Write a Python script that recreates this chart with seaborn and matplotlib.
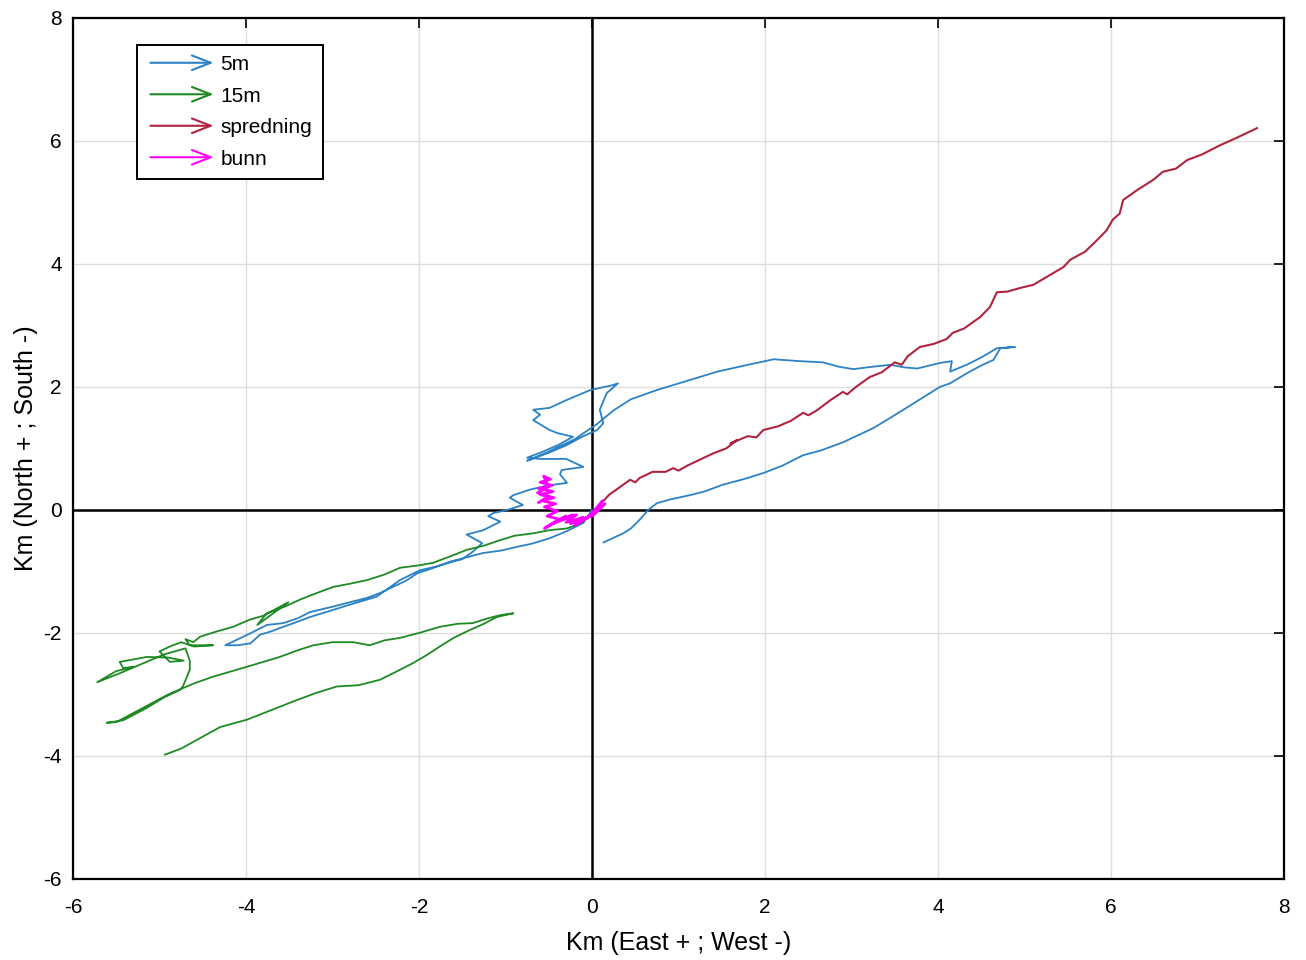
# progressive vector plot of current drift tracks
import pandas as pd
import seaborn as sns
import matplotlib.pyplot as plt
from matplotlib.patches import FancyArrowPatch
from matplotlib.legend_handler import HandlerPatch

# track points (km east, km north)
track_5m = [(0.0, 0.0), (-0.1, -0.21), (-0.3, -0.35), (-0.49, -0.46), (-0.7, -0.55), (-0.87, -0.6),
            (-1.05, -0.66), (-1.26, -0.7), (-1.45, -0.77), (-1.64, -0.84), (-1.85, -0.95), (-2.02, -1.03),
            (-2.15, -1.15), (-2.3, -1.25), (-2.45, -1.35), (-2.6, -1.43), (-2.8, -1.5), (-2.99, -1.57),
            (-3.26, -1.66), (-3.4, -1.76), (-3.57, -1.84), (-3.76, -1.87), (-3.9, -1.97), (-4.03, -2.06),
            (-4.24, -2.2), (-4.1, -2.2), (-3.95, -2.17), (-3.84, -2.03), (-3.7, -1.97), (-3.61, -1.92),
            (-3.45, -1.84), (-3.26, -1.74), (-3.05, -1.65), (-2.8, -1.54), (-2.49, -1.41), (-2.35, -1.27),
            (-2.22, -1.14), (-1.99, -0.98), (-1.8, -0.92), (-1.61, -0.84), (-1.5, -0.8), (-1.38, -0.68),
            (-1.27, -0.54), (-1.45, -0.4), (-1.26, -0.33), (-1.06, -0.19), (-1.2, -0.1), (-1.14, -0.05),
            (-0.98, 0.0), (-0.8, 0.08), (-0.95, 0.2), (-0.91, 0.24), (-0.72, 0.33), (-0.5, 0.4),
            (-0.29, 0.44), (-0.37, 0.58), (-0.35, 0.65), (-0.1, 0.7), (-0.3, 0.83), (-0.6, 0.83),
            (-0.75, 0.85), (-0.6, 0.93), (-0.4, 1.05), (-0.22, 1.19), (-0.4, 1.25), (-0.49, 1.3),
            (-0.68, 1.46), (-0.6, 1.55), (-0.68, 1.63), (-0.49, 1.66), (-0.29, 1.79), (-0.02, 1.95),
            (0.24, 2.03), (0.3, 2.06), (0.17, 1.9), (0.09, 1.63), (0.13, 1.41), (0.06, 1.3),
            (-0.1, 1.2), (-0.3, 1.05), (-0.5, 0.93), (-0.75, 0.8), (-0.5, 0.95), (-0.2, 1.15),
            (0.06, 1.4), (0.25, 1.62), (0.45, 1.8), (0.75, 1.95), (1.1, 2.1), (1.45, 2.25),
            (1.8, 2.36), (2.1, 2.45), (2.4, 2.42), (2.67, 2.4), (2.85, 2.33), (3.02, 2.29),
            (3.25, 2.33), (3.45, 2.36), (3.6, 2.32), (3.76, 2.3), (4.02, 2.39), (4.16, 2.42),
            (4.14, 2.25), (4.33, 2.36), (4.5, 2.48), (4.68, 2.63), (4.89, 2.65), (4.72, 2.63),
            (4.64, 2.44), (4.5, 2.35), (4.33, 2.22), (4.14, 2.06), (4.02, 2.0), (3.85, 1.85),
            (3.68, 1.7), (3.45, 1.5), (3.25, 1.33), (2.9, 1.1), (2.65, 0.97), (2.44, 0.89),
            (2.2, 0.72), (1.98, 0.6), (1.75, 0.5), (1.51, 0.41), (1.3, 0.3), (1.13, 0.24),
            (0.9, 0.17), (0.75, 0.11), (0.65, 0.0), (0.55, -0.16), (0.45, -0.3), (0.36, -0.38),
            (0.13, -0.53)]

track_15m = [(-0.1, -0.2), (-0.29, -0.3), (-0.5, -0.33), (-0.68, -0.38), (-0.9, -0.42), (-1.06, -0.49),
             (-1.25, -0.58), (-1.45, -0.65), (-1.65, -0.76), (-1.84, -0.86), (-2.0, -0.9), (-2.22, -0.94),
             (-2.4, -1.05), (-2.6, -1.14), (-2.8, -1.2), (-2.99, -1.25), (-3.2, -1.36), (-3.38, -1.46),
             (-3.55, -1.57), (-3.76, -1.68), (-3.87, -1.87), (-3.51, -1.5), (-3.8, -1.72), (-3.95, -1.78),
             (-4.15, -1.9), (-4.35, -1.98), (-4.53, -2.06), (-4.61, -2.15), (-4.7, -2.1), (-4.65, -2.2),
             (-4.38, -2.2), (-4.6, -2.22), (-4.75, -2.15), (-4.88, -2.22), (-5.0, -2.3), (-4.88, -2.47),
             (-4.72, -2.45), (-4.9, -2.4), (-5.15, -2.39), (-5.34, -2.44), (-5.46, -2.47), (-5.42, -2.57),
             (-5.3, -2.55), (-5.5, -2.62), (-5.72, -2.8), (-5.45, -2.65), (-5.2, -2.5), (-4.95, -2.35),
             (-4.7, -2.25), (-4.65, -2.45), (-4.65, -2.6), (-4.73, -2.87), (-4.77, -2.93), (-4.95, -3.05),
             (-5.15, -3.22), (-5.42, -3.42), (-5.61, -3.46), (-5.5, -3.45), (-5.3, -3.3), (-5.1, -3.15),
             (-4.9, -3.0), (-4.6, -2.82), (-4.38, -2.71), (-3.99, -2.55), (-3.8, -2.47), (-3.61, -2.39),
             (-3.4, -2.28), (-3.22, -2.2), (-3.0, -2.15), (-2.76, -2.15), (-2.57, -2.2), (-2.4, -2.12),
             (-2.22, -2.08), (-2.0, -2.0), (-1.76, -1.9), (-1.55, -1.85), (-1.38, -1.84), (-1.2, -1.76),
             (-1.06, -1.71), (-0.91, -1.68), (-1.1, -1.74), (-1.25, -1.85), (-1.41, -1.95), (-1.6, -2.08),
             (-1.76, -2.22), (-1.9, -2.35), (-2.07, -2.49), (-2.25, -2.62), (-2.45, -2.76), (-2.7, -2.85),
             (-2.95, -2.87), (-3.2, -2.98), (-3.41, -3.09), (-3.7, -3.25), (-3.99, -3.41), (-4.3, -3.53),
             (-4.57, -3.74), (-4.75, -3.88), (-4.94, -3.98)]

track_spredning = [(0.1, 0.1), (0.2, 0.25), (0.3, 0.35), (0.44, 0.49), (0.5, 0.45), (0.55, 0.52),
                   (0.7, 0.62), (0.85, 0.62), (0.94, 0.68), (1.0, 0.64), (1.1, 0.72), (1.25, 0.82),
                   (1.4, 0.92), (1.55, 1.0), (1.68, 1.14), (1.6, 1.08), (1.8, 1.2), (1.9, 1.18),
                   (1.98, 1.3), (2.15, 1.36), (2.3, 1.45), (2.44, 1.58), (2.5, 1.54), (2.6, 1.62),
                   (2.75, 1.78), (2.9, 1.92), (2.95, 1.88), (3.05, 2.0), (3.21, 2.16), (3.35, 2.24),
                   (3.5, 2.4), (3.58, 2.36), (3.65, 2.5), (3.79, 2.65), (3.95, 2.7), (4.1, 2.78),
                   (4.17, 2.88), (4.3, 2.95), (4.49, 3.14), (4.6, 3.3), (4.68, 3.54), (4.8, 3.55),
                   (4.95, 3.61), (5.1, 3.66), (5.33, 3.85), (5.45, 3.95), (5.53, 4.07), (5.7, 4.2),
                   (5.84, 4.39), (5.95, 4.55), (6.02, 4.72), (6.1, 4.82), (6.14, 5.04), (6.3, 5.2),
                   (6.49, 5.37), (6.6, 5.5), (6.75, 5.55), (6.88, 5.69), (7.05, 5.78), (7.26, 5.93),
                   (7.45, 6.05), (7.69, 6.21)]

track_bunn = [(0.12, 0.15), (0.02, -0.02), (0.15, 0.1), (0.0, -0.1), (0.1, 0.05), (-0.08, -0.15),
              (0.05, -0.02), (-0.15, -0.2), (0.0, -0.08), (-0.2, -0.25), (-0.05, -0.12), (-0.25, -0.22),
              (-0.1, -0.12), (-0.3, -0.2), (-0.18, -0.08), (-0.38, -0.18), (-0.22, -0.08), (-0.45, -0.22),
              (-0.3, -0.1), (-0.55, -0.3), (-0.38, -0.15), (-0.52, -0.1), (-0.4, -0.02), (-0.55, 0.05),
              (-0.42, 0.1), (-0.58, 0.15), (-0.44, 0.2), (-0.6, 0.25), (-0.45, 0.3), (-0.62, 0.35),
              (-0.46, 0.4), (-0.6, 0.45), (-0.48, 0.5), (-0.56, 0.55), (-0.5, 0.38), (-0.63, 0.28),
              (-0.5, 0.22), (-0.62, 0.12)]

labels = ['5m', '15m', 'spredning', 'bunn']
colors = ['#2b82c4', '#1f8a24', '#b0243f', '#ff00ff']
widths = [1.3, 1.3, 1.5, 2.0]
tracks = [track_5m, track_15m, track_spredning, track_bunn]

sns.set_theme(style='white')
plt.rcParams['font.family'] = ['Liberation Sans', 'DejaVu Sans']
plt.rcParams['axes.unicode_minus'] = False
plt.rcParams['text.color'] = 'black'
plt.rcParams['axes.labelcolor'] = 'black'

fig = plt.figure(figsize=(13.06, 9.6), dpi=100)
ax = fig.add_axes([0.0559, 0.0844, 0.9273, 0.8969])

for lab, col, w, tr in zip(labels, colors, widths, tracks):
    df = pd.DataFrame(tr, columns=['east', 'north'])
    sns.lineplot(data=df, x='east', y='north', sort=False, estimator=None,
                 color=col, lw=w, ax=ax, legend=False)

ax.axhline(0, color='black', lw=1.8, zorder=1)
ax.axvline(0, color='black', lw=1.8, zorder=1)

ax.set_xlim(-6, 8)
ax.set_ylim(-6, 8)
ax.set_xticks(range(-6, 9, 2))
ax.set_yticks(range(-6, 9, 2))
ax.grid(True, color='#dddddd', lw=1)
ax.set_axisbelow(True)
ax.tick_params(direction='in', length=7, width=1.2, top=True, right=True,
               labelsize=15, colors='black')
ax.tick_params(axis='x', pad=14)
ax.tick_params(axis='y', pad=8)
for s in ax.spines.values():
    s.set_color('black')
    s.set_linewidth(1.6)

ax.set_xlabel('Km (East + ; West -)', fontsize=18, labelpad=10)
ax.set_ylabel('Km (North + ; South -)', fontsize=18, labelpad=4)


# arrows as legend keys
def arrow_key(legend, orig_handle, xdescent, ydescent, width, height, fontsize):
    return FancyArrowPatch((-xdescent, height / 2 - ydescent), (width - xdescent, height / 2 - ydescent),
                           arrowstyle='->,head_length=0.9,head_width=0.35', mutation_scale=fontsize)


handles = [FancyArrowPatch((0, 0), (1, 0), color=c, lw=1.5) for c in colors]
leg = ax.legend(handles, labels, handler_map={FancyArrowPatch: HandlerPatch(patch_func=arrow_key)},
                loc='upper left', bbox_to_anchor=(0.053, 0.969), fontsize=15, frameon=True,
                fancybox=False, edgecolor='black', framealpha=1, handlelength=3.3,
                handletextpad=0.2, labelspacing=0.6, borderpad=0.5, borderaxespad=0)
leg.get_frame().set_linewidth(1.4)

plt.savefig('out.png', dpi=100)
